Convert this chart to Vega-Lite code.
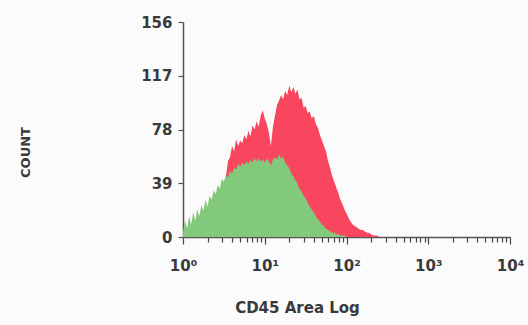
{
  "$schema": "https://vega.github.io/schema/vega-lite/v6.json",
  "width": 327,
  "height": 215,
  "autosize": "none",
  "padding": {"left": 183, "top": 22, "right": 18, "bottom": 88},
  "background": "#fbfbfb",
  "config": {"view": {"stroke": null}},
  "data": {"values": [
    {"x": 1, "green": 3, "red": 2},
    {"x": 1.0593, "green": 12, "red": 8},
    {"x": 1.122, "green": 6, "red": 5},
    {"x": 1.1885, "green": 15, "red": 10},
    {"x": 1.2589, "green": 9, "red": 8},
    {"x": 1.3335, "green": 18, "red": 12},
    {"x": 1.4125, "green": 12, "red": 10},
    {"x": 1.4962, "green": 20, "red": 15},
    {"x": 1.5849, "green": 15, "red": 12},
    {"x": 1.6788, "green": 23, "red": 18},
    {"x": 1.7783, "green": 19, "red": 15},
    {"x": 1.8836, "green": 27, "red": 22},
    {"x": 1.9953, "green": 22, "red": 19},
    {"x": 2.1135, "green": 30, "red": 25},
    {"x": 2.2387, "green": 27, "red": 23},
    {"x": 2.3714, "green": 34, "red": 28},
    {"x": 2.5119, "green": 31, "red": 27},
    {"x": 2.6607, "green": 38, "red": 32},
    {"x": 2.8184, "green": 35, "red": 31},
    {"x": 2.9854, "green": 42, "red": 36},
    {"x": 3.1623, "green": 40, "red": 38},
    {"x": 3.3497, "green": 45, "red": 44},
    {"x": 3.5481, "green": 43, "red": 55},
    {"x": 3.7584, "green": 48, "red": 58},
    {"x": 3.9811, "green": 46, "red": 66},
    {"x": 4.217, "green": 50, "red": 62},
    {"x": 4.4668, "green": 49, "red": 71},
    {"x": 4.7315, "green": 53, "red": 66},
    {"x": 5.0119, "green": 51, "red": 70},
    {"x": 5.3088, "green": 54, "red": 68},
    {"x": 5.6234, "green": 52, "red": 74},
    {"x": 5.9566, "green": 55, "red": 71},
    {"x": 6.3096, "green": 53, "red": 77},
    {"x": 6.6834, "green": 56, "red": 73},
    {"x": 7.0795, "green": 54, "red": 81},
    {"x": 7.4989, "green": 57, "red": 78},
    {"x": 7.9433, "green": 55, "red": 84},
    {"x": 8.414, "green": 57, "red": 80},
    {"x": 8.9125, "green": 55, "red": 88},
    {"x": 9.4406, "green": 56, "red": 92},
    {"x": 10, "green": 54, "red": 86},
    {"x": 10.593, "green": 57, "red": 82},
    {"x": 11.22, "green": 55, "red": 76},
    {"x": 11.885, "green": 52, "red": 66},
    {"x": 12.589, "green": 56, "red": 80},
    {"x": 13.335, "green": 58, "red": 88},
    {"x": 14.125, "green": 56, "red": 96},
    {"x": 14.962, "green": 60, "red": 99},
    {"x": 15.849, "green": 57, "red": 103},
    {"x": 16.788, "green": 58, "red": 100},
    {"x": 17.783, "green": 54, "red": 106},
    {"x": 18.836, "green": 52, "red": 103},
    {"x": 19.953, "green": 50, "red": 110},
    {"x": 21.135, "green": 46, "red": 105},
    {"x": 22.387, "green": 44, "red": 109},
    {"x": 23.714, "green": 41, "red": 104},
    {"x": 25.119, "green": 39, "red": 107},
    {"x": 26.607, "green": 35, "red": 100},
    {"x": 28.184, "green": 33, "red": 101},
    {"x": 29.854, "green": 30, "red": 94},
    {"x": 31.623, "green": 28, "red": 95},
    {"x": 33.497, "green": 25, "red": 90},
    {"x": 35.481, "green": 22, "red": 91},
    {"x": 37.584, "green": 20, "red": 86},
    {"x": 39.811, "green": 18, "red": 88},
    {"x": 42.17, "green": 15, "red": 82},
    {"x": 44.668, "green": 13, "red": 79},
    {"x": 47.315, "green": 11, "red": 74},
    {"x": 50.119, "green": 9, "red": 70},
    {"x": 53.088, "green": 8, "red": 66},
    {"x": 56.234, "green": 6, "red": 62},
    {"x": 59.566, "green": 5, "red": 55},
    {"x": 63.096, "green": 4, "red": 50},
    {"x": 66.834, "green": 3, "red": 44},
    {"x": 70.795, "green": 3, "red": 40},
    {"x": 74.989, "green": 2, "red": 36},
    {"x": 79.433, "green": 2, "red": 32},
    {"x": 84.14, "green": 1, "red": 27},
    {"x": 89.125, "green": 1, "red": 24},
    {"x": 94.406, "green": 1, "red": 20},
    {"x": 100, "green": 0, "red": 17},
    {"x": 105.93, "green": 0, "red": 14},
    {"x": 112.2, "green": 0, "red": 11},
    {"x": 118.85, "green": 0, "red": 9},
    {"x": 125.89, "green": 0, "red": 8},
    {"x": 133.35, "green": 0, "red": 7},
    {"x": 141.25, "green": 0, "red": 6},
    {"x": 149.62, "green": 0, "red": 5},
    {"x": 158.49, "green": 0, "red": 5},
    {"x": 167.88, "green": 0, "red": 4},
    {"x": 177.83, "green": 0, "red": 3},
    {"x": 188.36, "green": 0, "red": 3},
    {"x": 199.53, "green": 0, "red": 2},
    {"x": 211.35, "green": 0, "red": 1},
    {"x": 223.87, "green": 0, "red": 1},
    {"x": 237.14, "green": 0, "red": 1},
    {"x": 251.19, "green": 0, "red": 0}
  ]},
  "encoding": {
    "x": {
      "field": "x", "type": "quantitative",
      "scale": {"type": "log", "domain": [1, 10000], "nice": false},
      "axis": {
        "title": "CD45 Area Log",
        "values": [1,2,3,4,5,6,7,8,9,10,20,30,40,50,60,70,80,90,100,200,300,400,500,600,700,800,900,1000,2000,3000,4000,5000,6000,7000,8000,9000,10000],
        "labelExpr": "datum.value == 1 ? '10⁰' : datum.value == 10 ? '10¹' : datum.value == 100 ? '10²' : datum.value == 1000 ? '10³' : datum.value == 10000 ? '10⁴' : ''",
        "labelOverlap": false,
        "labelBound": false,
        "labelFlush": false,
        "grid": false,
        "domainColor": "#555555",
        "domainWidth": 1.5,
        "tickColor": "#444444",
        "tickWidth": 1.2,
        "tickSize": {"condition": {"test": "indexof([1,10,100,1000,10000], datum.value) >= 0", "value": 7}, "value": 5},
        "labelPadding": 14,
        "labelFont": "DejaVu Sans",
        "labelFontWeight": "bold",
        "labelFontSize": 15,
        "labelColor": "#3a3a3a",
        "titleFont": "DejaVu Sans",
        "titleFontWeight": "bold",
        "titleFontSize": 15,
        "titleColor": "#3a3a3a",
        "titleX": 114,
        "titleY": 70,
        "titleAlign": "center",
        "titleBaseline": "middle"
      }
    }
  },
  "layer": [
    {
      "mark": {"type": "area", "color": "#f9465f", "opacity": 1},
      "encoding": {
        "y": {
          "field": "red", "type": "quantitative",
          "scale": {"domain": [0, 156], "nice": false},
          "axis": {
            "title": "COUNT",
            "values": [0, 39, 78, 117, 156],
            "grid": false,
            "domainColor": "#5a4f4f",
            "domainWidth": 1.5,
            "tickColor": "#5a4f4f",
            "tickWidth": 1.2,
            "tickSize": 5,
            "labelPadding": 6,
            "labelFont": "DejaVu Sans",
            "labelFontWeight": "bold",
            "labelFontSize": 15,
            "labelColor": "#3a3a3a",
            "titleFont": "DejaVu Sans",
            "titleFontWeight": "bold",
            "titleFontSize": 13,
            "titleColor": "#3a3a3a",
            "titleAngle": 270,
            "titleX": -158,
            "titleY": 130,
            "titleAlign": "center",
            "titleBaseline": "middle"
          }
        }
      }
    },
    {
      "mark": {"type": "area", "color": "#82c97b", "opacity": 1},
      "encoding": {
        "y": {"field": "green", "type": "quantitative"}
      }
    }
  ]
}
